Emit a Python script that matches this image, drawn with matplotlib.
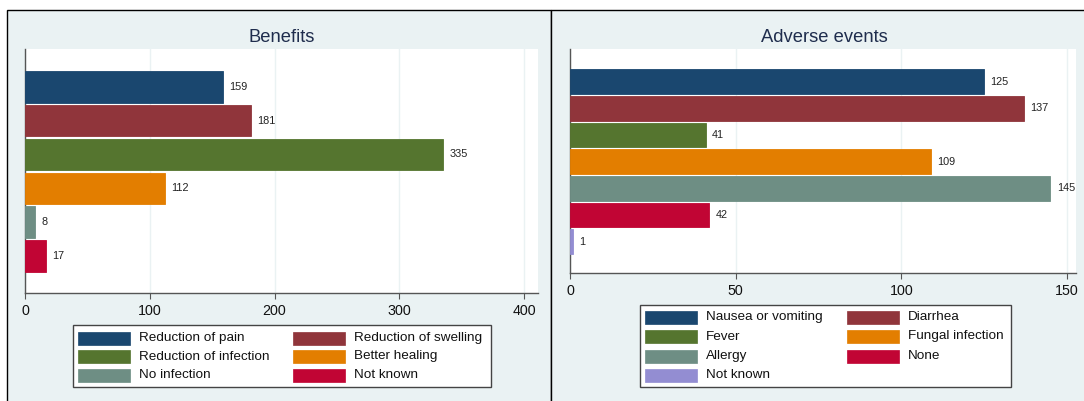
import matplotlib
matplotlib.use("Agg")
import matplotlib.pyplot as plt
from matplotlib.patches import Rectangle

plt.rcParams['font.family'] = ['Liberation Sans', 'DejaVu Sans']

# --- data ---
benefit_labels = ["Reduction of pain", "Reduction of swelling", "Reduction of infection",
                  "Better healing", "No infection", "Not known"]
benefit_values = [159, 181, 335, 112, 8, 17]

adverse_labels = ["Nausea or vomiting", "Diarrhea", "Fever", "Fungal infection",
                  "Allergy", "None", "Not known"]
adverse_values = [125, 137, 41, 109, 145, 42, 1]

# Stata s2color palette
palette = ["#1a476f", "#90353b", "#55752f", "#e37e00", "#6e8e84", "#c10534", "#938dd2"]

benefit_ticks = [0, 100, 200, 300, 400]
adverse_ticks = [0, 50, 100, 150]

W, H = 1084, 401
BG = "#eaf2f3"
AXIS = "#555555"
TITLE = "#1f2d4d"

fig = plt.figure(figsize=(W / 100, H / 100), dpi=100)
fig.patch.set_facecolor("white")


def fbox(x0, y0, x1, y1):
    # pixel box (top-left origin) -> figure fraction [left, bottom, width, height]
    return [x0 / W, 1 - y1 / H, (x1 - x0) / W, (y1 - y0) / H]


def panel(x0, x1):
    l, b, w, h = fbox(x0, 10, x1, H + 5)
    fig.add_artist(Rectangle((l, b), w, h, transform=fig.transFigure,
                             facecolor=BG, edgecolor="black", lw=1.0, zorder=0))


def bar_panel(box, labels, values, ticks, xmax, ylim, title, title_x):
    ax = fig.add_axes(fbox(*box))
    ax.set_facecolor("white")
    pos = list(range(len(values)))
    ax.barh(pos, values, height=0.93, color=palette[:len(values)],
            edgecolor=palette[:len(values)], lw=0.6, zorder=3)
    for p, v in zip(pos, values):
        ax.annotate(str(v), (v, p), xytext=(4.5, 0), textcoords="offset points",
                    va="center", ha="left", fontsize=7.8, color="#222222")
    ax.set_xlim(0, xmax)
    ax.set_ylim(*ylim)
    ax.set_xticks(ticks)
    ax.set_yticks([])
    ax.grid(axis="x", color=BG, lw=1.0, zorder=0)
    for s in ["top", "right"]:
        ax.spines[s].set_visible(False)
    for s in ["left", "bottom"]:
        ax.spines[s].set_color(AXIS)
        ax.spines[s].set_linewidth(1.0)
    ax.tick_params(axis="x", length=4, width=0.8, color=AXIS, pad=4,
                   labelsize=10.3, labelcolor="#111111")
    fig.text(title_x / W, 1 - 37 / H, title, ha="center", va="center",
             fontsize=13.2, color=TITLE)
    return ax


def legend_box(box, labels, col_x, row_y):
    x0, y0, x1, y1 = box
    l, b, w, h = fbox(x0, y0, x1, y1)
    fig.add_artist(Rectangle((l, b), w, h, transform=fig.transFigure,
                             facecolor="white", edgecolor="#444444", lw=1.0, zorder=2))
    for i, lab in enumerate(labels):
        kx = col_x[i % 2]
        ky = row_y[i // 2]
        l, b, w, h = fbox(kx, ky - 6.5, kx + 52, ky + 6.5)
        fig.add_artist(Rectangle((l, b), w, h, transform=fig.transFigure,
                                 facecolor=palette[i], edgecolor=palette[i], lw=0.5, zorder=3))
        fig.text((kx + 61) / W, 1 - ky / H, lab, ha="left", va="center",
                 fontsize=9.7, color="#111111", zorder=4)


panel(7, 551)
panel(551, W + 5)

bar_panel((25, 49, 538, 292.7), benefit_labels, benefit_values, benefit_ticks,
          411.2, (6.09, -1.12), "Benefits", 282)
bar_panel((570, 49, 1076, 273), adverse_labels, adverse_values, adverse_ticks,
          152.7, (7.17, -1.22), "Adverse events", 824)

legend_box((73, 325, 491, 387), benefit_labels, (78, 293), (338, 356.5, 375))
legend_box((640, 305, 1011, 387), adverse_labels, (645, 847), (317, 336.5, 356, 375))

fig.savefig("out.png", dpi=100, facecolor=fig.get_facecolor())
